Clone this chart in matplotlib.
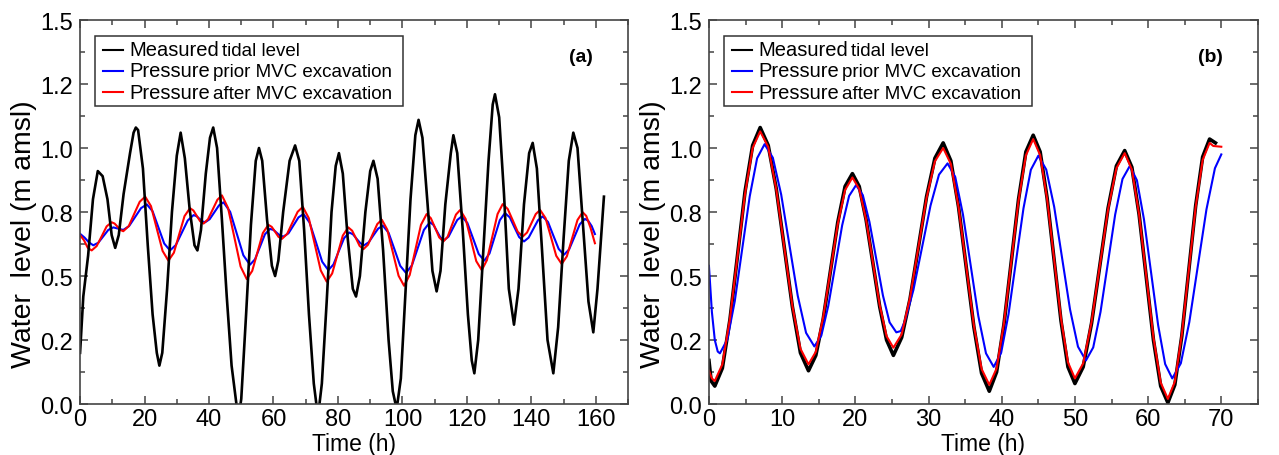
import numpy as np
import matplotlib
matplotlib.use("Agg")
import matplotlib.pyplot as plt
from matplotlib.patches import Rectangle

plt.rcParams['font.family'] = ['Liberation Sans', 'DejaVu Sans']

# ---- panel (a): 0-162 h, (time h, level m) ----
meas_a = np.array([
    (0, 0.20), (1, 0.42), (2.5, 0.58), (4, 0.80), (5.5, 0.91), (7, 0.89), (8.5, 0.80),
    (9.8, 0.66), (10.9, 0.61), (12, 0.66), (13.5, 0.82), (15.5, 0.98), (16.6, 1.06),
    (17.3, 1.08), (18, 1.07), (19.5, 0.92), (21, 0.62), (22.5, 0.35), (23.8, 0.20),
    (24.6, 0.15), (25.5, 0.20), (27, 0.45), (28.5, 0.75), (30, 0.97), (31.2, 1.06),
    (32.5, 0.96), (34, 0.76), (35.5, 0.62), (36.4, 0.60), (37.5, 0.68), (39, 0.90),
    (40.3, 1.04), (41.3, 1.08), (42.5, 1.00), (44, 0.72), (45.5, 0.42), (47, 0.15),
    (48.5, 0.0), (49.2, -0.05), (50, 0.02), (51.5, 0.35), (53, 0.70), (54.5, 0.95),
    (55.5, 1.00), (56.5, 0.95), (58, 0.72), (59.5, 0.54), (60.5, 0.50), (61.5, 0.56),
    (63, 0.75), (65, 0.95), (66.7, 1.01), (68, 0.95), (69.5, 0.68), (71, 0.35), (72.5, 0.08),
    (73.8, -0.05), (75, 0.08), (76.5, 0.40), (78, 0.75), (79.3, 0.93), (80.3, 0.98),
    (81.5, 0.90), (83, 0.65), (84.6, 0.45), (85.6, 0.42), (86.8, 0.50), (88.5, 0.75),
    (90, 0.91), (91, 0.95), (92.3, 0.88), (94, 0.60), (95.7, 0.25), (97, 0.05),
    (98.2, -0.02), (99.5, 0.10), (101, 0.45), (102.5, 0.80), (104, 1.05), (105, 1.11),
    (106.2, 1.04), (107.8, 0.78), (109.3, 0.52), (110.6, 0.44), (111.8, 0.52),
    (113.3, 0.78), (115, 0.98), (115.8, 1.05), (117, 0.98), (118.7, 0.68), (120.3, 0.35),
    (121.5, 0.17), (122.3, 0.12), (123.5, 0.25), (125, 0.58), (126.7, 0.95), (128, 1.17),
    (128.7, 1.21), (130, 1.12), (131.5, 0.82), (133, 0.45), (134.6, 0.31), (136, 0.45),
    (137.7, 0.78), (139.3, 0.98), (140.4, 1.02), (141.7, 0.92), (143.3, 0.60), (145, 0.25),
    (146.8, 0.12), (148.3, 0.30), (150, 0.65), (151.6, 0.95), (153, 1.06), (154.3, 1.00),
    (156, 0.70), (157.7, 0.40), (159.2, 0.28), (160.5, 0.45), (162.5, 0.81)])

prior_a = np.array([
    (0, 0.665), (1.4, 0.65), (2.7, 0.632), (4.1, 0.62), (5.65, 0.63), (7.2, 0.655),
    (8.75, 0.68), (10.3, 0.69), (11.85, 0.685), (13.4, 0.68), (15.2, 0.695), (17.05, 0.73),
    (18.9, 0.765), (20.7, 0.78), (22.5, 0.753), (24.3, 0.69), (26.1, 0.627), (27.9, 0.60),
    (29.7, 0.621), (31.55, 0.669), (33.4, 0.717), (35.2, 0.738), (36.1, 0.734),
    (37.0, 0.724), (37.9, 0.714), (38.8, 0.71), (40.2, 0.722), (41.65, 0.749),
    (43.1, 0.776), (44.5, 0.788), (46.55, 0.751), (48.6, 0.666), (50.65, 0.581),
    (52.7, 0.544), (54.25, 0.565), (55.8, 0.614), (57.35, 0.663), (58.9, 0.684),
    (60.0, 0.68), (61.0, 0.669), (62.0, 0.658), (63.1, 0.654), (64.65, 0.667),
    (66.2, 0.698), (67.75, 0.729), (69.3, 0.742), (71.2, 0.709), (73.15, 0.633),
    (75.1, 0.556), (77.0, 0.523), (78.6, 0.545), (80.25, 0.597), (81.9, 0.648),
    (83.5, 0.67), (84.65, 0.663), (85.8, 0.645), (86.95, 0.628), (88.1, 0.62),
    (89.55, 0.632), (91.0, 0.659), (92.45, 0.685), (93.9, 0.697), (95.7, 0.669),
    (97.5, 0.605), (99.3, 0.54), (101.1, 0.512), (102.95, 0.542), (104.8, 0.611),
    (106.65, 0.68), (108.5, 0.71), (109.6, 0.70), (110.7, 0.675), (111.8, 0.65),
    (112.9, 0.64), (114.3, 0.654), (115.65, 0.687), (117.0, 0.719), (118.4, 0.733),
    (120.15, 0.707), (121.9, 0.647), (123.65, 0.586), (125.4, 0.56), (127.0, 0.588),
    (128.6, 0.653), (130.2, 0.718), (131.8, 0.746), (133.3, 0.729), (134.75, 0.69),
    (136.2, 0.652), (137.7, 0.635), (139.15, 0.65), (140.6, 0.684), (142.05, 0.718),
    (143.5, 0.733), (145.15, 0.711), (146.8, 0.658), (148.45, 0.606), (150.1, 0.583),
    (151.7, 0.604), (153.35, 0.653), (155.0, 0.702), (156.6, 0.723), (157.6, 0.716),
    (158.7, 0.695), (159.7, 0.664)])

after_a = np.array([
    (0, 0.66), (1.2, 0.64), (2.4, 0.61), (3.6, 0.60), (5.15, 0.617), (6.7, 0.655),
    (8.25, 0.694), (9.8, 0.71), (10.7, 0.705), (11.6, 0.693), (12.5, 0.68), (13.4, 0.675),
    (15.1, 0.695), (16.8, 0.743), (18.5, 0.79), (20.2, 0.81), (22.0, 0.773), (23.8, 0.685),
    (25.6, 0.598), (27.4, 0.56), (29.1, 0.591), (30.75, 0.663), (32.4, 0.734), (34.1, 0.765),
    (35.15, 0.756), (36.2, 0.735), (37.25, 0.714), (38.3, 0.705), (39.7, 0.722),
    (41.15, 0.76), (42.6, 0.798), (44.0, 0.815), (45.9, 0.766), (47.85, 0.652),
    (49.8, 0.537), (51.7, 0.488), (53.4, 0.52), (55.05, 0.594), (56.7, 0.668), (58.4, 0.70),
    (59.45, 0.692), (60.5, 0.673), (61.55, 0.653), (62.6, 0.645), (64.2, 0.664),
    (65.85, 0.708), (67.5, 0.751), (69.1, 0.77), (70.95, 0.726), (72.8, 0.624),
    (74.65, 0.522), (76.5, 0.478), (78.2, 0.51), (79.85, 0.584), (81.5, 0.658), (83.2, 0.69),
    (84.4, 0.677), (85.55, 0.648), (86.7, 0.618), (87.9, 0.605), (89.3, 0.622),
    (90.75, 0.663), (92.2, 0.703), (93.6, 0.72), (95.3, 0.681), (97.05, 0.591),
    (98.8, 0.501), (100.5, 0.462), (102.25, 0.504), (104.0, 0.602), (105.75, 0.70),
    (107.5, 0.742), (108.8, 0.726), (110.1, 0.689), (111.4, 0.651), (112.7, 0.635),
    (114.0, 0.653), (115.3, 0.697), (116.6, 0.74), (117.9, 0.758), (119.6, 0.723),
    (121.25, 0.641), (122.9, 0.558), (124.6, 0.523), (126.2, 0.562), (127.85, 0.652),
    (129.5, 0.742), (131.1, 0.781), (132.65, 0.762), (134.2, 0.718), (135.75, 0.673),
    (137.3, 0.654), (138.65, 0.67), (140.0, 0.706), (141.35, 0.742), (142.7, 0.758),
    (144.4, 0.726), (146.05, 0.653), (147.7, 0.579), (149.4, 0.547), (151.0, 0.577),
    (152.65, 0.648), (154.3, 0.719), (155.9, 0.749), (157.0, 0.735), (158.3, 0.69),
    (159.7, 0.628)])

# ---- panel (b): 0-70 h ----
meas_b = np.array([
    (0, 0.17), (0.3, 0.09), (0.8, 0.07), (1.83, 0.14), (2.87, 0.33), (3.9, 0.58),
    (4.93, 0.83), (5.97, 1.01), (7.0, 1.08), (8.1, 1.01), (9.2, 0.84), (10.3, 0.61),
    (11.4, 0.38), (12.5, 0.20), (13.6, 0.13), (14.6, 0.19), (15.6, 0.33), (16.6, 0.52),
    (17.6, 0.71), (18.6, 0.85), (19.6, 0.90), (20.53, 0.85), (21.47, 0.72), (22.4, 0.55),
    (23.33, 0.38), (24.27, 0.25), (25.2, 0.19), (26.33, 0.26), (27.47, 0.41), (28.6, 0.61),
    (29.73, 0.81), (30.87, 0.96), (32.0, 1.02), (33.05, 0.95), (34.1, 0.77), (35.15, 0.535),
    (36.2, 0.30), (37.25, 0.12), (38.3, 0.05), (39.3, 0.125), (40.3, 0.31), (41.3, 0.555),
    (42.3, 0.80), (43.3, 0.985), (44.3, 1.05), (45.25, 0.985), (46.2, 0.805), (47.15, 0.565),
    (48.1, 0.325), (49.05, 0.145), (50.0, 0.08), (51.13, 0.145), (52.27, 0.315), (53.4, 0.54),
    (54.53, 0.765), (55.67, 0.93), (56.8, 0.99), (57.78, 0.925), (58.77, 0.74), (59.75, 0.495),
    (60.73, 0.25), (61.72, 0.07), (62.7, 0.005), (63.65, 0.075), (64.6, 0.265), (65.55, 0.52),
    (66.5, 0.775), (67.45, 0.965), (68.4, 1.035), (69.2, 1.02)])

prior_b = np.array([
    (0, 0.54), (0.4, 0.36), (0.8, 0.25), (1.2, 0.205), (1.5, 0.198), (2.52, 0.253),
    (3.53, 0.402), (4.55, 0.607), (5.57, 0.811), (6.58, 0.96), (7.6, 1.015), (8.73, 0.962),
    (9.87, 0.818), (11.0, 0.62), (12.13, 0.423), (13.27, 0.278), (14.4, 0.225),
    (15.35, 0.267), (16.3, 0.383), (17.25, 0.54), (18.2, 0.698), (19.15, 0.813),
    (20.1, 0.855), (21.02, 0.816), (21.93, 0.711), (22.85, 0.568), (23.77, 0.424),
    (24.68, 0.319), (25.6, 0.28), (26.2, 0.285), (26.77, 0.324), (27.93, 0.445),
    (29.1, 0.61), (30.27, 0.775), (31.43, 0.896), (32.6, 0.94), (33.65, 0.887),
    (34.7, 0.741), (35.75, 0.543), (36.8, 0.344), (37.85, 0.198), (38.9, 0.145),
    (39.92, 0.2), (40.93, 0.351), (41.95, 0.558), (42.97, 0.764), (43.98, 0.915),
    (45.0, 0.97), (46.08, 0.916), (47.17, 0.77), (48.25, 0.57), (49.33, 0.37),
    (50.42, 0.224), (51.5, 0.17), (52.5, 0.221), (53.5, 0.36), (54.5, 0.55), (55.5, 0.74),
    (56.5, 0.879), (57.5, 0.93), (58.47, 0.874), (59.43, 0.722), (60.4, 0.515),
    (61.37, 0.308), (62.33, 0.156), (63.3, 0.10), (64.47, 0.159), (65.63, 0.32),
    (66.8, 0.54), (67.97, 0.76), (69.13, 0.921), (70.0, 0.975)])

after_b = np.array([
    (0, 0.13), (0.4, 0.10), (0.8, 0.09), (1.83, 0.155), (2.87, 0.334), (3.9, 0.578),
    (4.93, 0.821), (5.97, 1.0), (7.0, 1.065), (8.1, 1.004), (9.2, 0.838), (10.3, 0.61),
    (11.4, 0.383), (12.5, 0.216), (13.6, 0.155), (14.6, 0.204), (15.6, 0.338), (16.6, 0.52),
    (17.6, 0.703), (18.6, 0.836), (19.6, 0.885), (20.53, 0.84), (21.47, 0.719),
    (22.4, 0.553), (23.33, 0.386), (24.27, 0.265), (25.2, 0.22), (26.33, 0.272),
    (27.47, 0.415), (28.6, 0.61), (29.73, 0.805), (30.87, 0.948), (32.0, 1.0),
    (33.05, 0.938), (34.1, 0.769), (35.15, 0.538), (36.2, 0.306), (37.25, 0.137),
    (38.3, 0.075), (39.3, 0.139), (40.3, 0.315), (41.3, 0.555), (42.3, 0.795),
    (43.3, 0.971), (44.3, 1.035), (45.25, 0.972), (46.2, 0.801), (47.15, 0.568),
    (48.1, 0.334), (49.05, 0.163), (50.0, 0.10), (51.13, 0.159), (52.27, 0.32), (53.4, 0.54),
    (54.53, 0.76), (55.67, 0.921), (56.8, 0.98), (57.78, 0.916), (58.77, 0.74), (59.75, 0.50),
    (60.73, 0.26), (61.72, 0.084), (62.7, 0.02), (63.65, 0.087), (64.6, 0.27), (65.55, 0.52),
    (66.5, 0.77), (67.45, 0.953), (68.4, 1.02), (68.9, 1.008), (70.0, 1.005)])

yticks = [0.0, 0.25, 0.5, 0.75, 1.0, 1.25, 1.5]
ytick_labels = ["0.0", "0.2", "0.5", "0.8", "1.0", "1.2", "1.5"]
xticks_a = [0, 20, 40, 60, 80, 100, 120, 140, 160]
xticks_b = [0, 10, 20, 30, 40, 50, 60, 70]

legend_big = ["Measured", "Pressure", "Pressure"]
legend_small = ["tidal level", "prior MVC excavation", "after MVC excavation"]
colors = ["black", "#0000ff", "#ff0000"]

fig = plt.figure(figsize=(12.79, 4.56), dpi=100)
ax_a = fig.add_axes([0.0626, 0.1118, 0.4285, 0.8421])
ax_b = fig.add_axes([0.5543, 0.1118, 0.4292, 0.8421])

ax_a.plot(prior_a[:, 0], prior_a[:, 1], color=colors[1], lw=1.5)
ax_a.plot(after_a[:, 0], after_a[:, 1], color=colors[2], lw=1.5)
ax_a.plot(meas_a[:, 0], meas_a[:, 1], color=colors[0], lw=1.9)

ax_b.plot(meas_b[:, 0], meas_b[:, 1], color=colors[0], lw=2.6)
ax_b.plot(prior_b[:, 0], prior_b[:, 1], color=colors[1], lw=1.5)
ax_b.plot(after_b[:, 0], after_b[:, 1], color=colors[2], lw=1.5)


def style(ax, xticks, xmax, tag):
    ax.set_xlim(0, xmax)
    ax.set_ylim(0, 1.5)
    ax.set_xticks(xticks)
    ax.set_xticks([t + (xticks[1] - xticks[0]) / 2 for t in xticks], minor=True)
    ax.set_yticks(yticks)
    ax.set_yticklabels(ytick_labels)
    ax.set_yticks([y + 0.125 for y in yticks[:-1]], minor=True)
    ax.tick_params(which='both', direction='in', top=True, right=True,
                   color='#444444', labelsize=17)
    ax.tick_params(which='major', length=6, width=1.1)
    ax.tick_params(which='minor', length=3.5, width=1.1)
    ax.tick_params(axis='y', pad=5)
    ax.tick_params(axis='x', pad=3)
    for s in ax.spines.values():
        s.set_color('#444444')
        s.set_linewidth(1.2)
    ax.set_xlabel("Time (h)", fontsize=16.5, labelpad=1)
    ax.set_ylabel("Water  level (m amsl)", fontsize=20.5)
    ax.yaxis.set_label_coords(-0.079, 0.445)
    ax.text(0.914, 0.905, tag, transform=ax.transAxes, fontsize=14,
            fontweight='bold', ha='center', va='center')

    # legend box drawn by hand: large first word, smaller rest
    ax.add_patch(Rectangle((0.0274, 0.776), 0.562, 0.182, transform=ax.transAxes,
                           facecolor='white', edgecolor='#333333', lw=1.1, zorder=5))
    rows = [0.923, 0.868, 0.812]
    for i in range(3):
        ax.plot([0.0414, 0.079], [rows[i], rows[i]], transform=ax.transAxes,
                color=colors[i], lw=1.5, zorder=6, clip_on=False)
        big = ax.text(0.0895, rows[i], legend_big[i], transform=ax.transAxes,
                      fontsize=14.5, ha='left', va='center', zorder=6)
        ax.annotate(legend_small[i], xy=(1, 0), xycoords=big, xytext=(2.6, 0),
                    textcoords='offset points', fontsize=13.5, ha='left',
                    va='bottom', zorder=6)


style(ax_a, xticks_a, 170, "(a)")
style(ax_b, xticks_b, 70, "(b)")

fig.savefig("out.png", dpi=100)
